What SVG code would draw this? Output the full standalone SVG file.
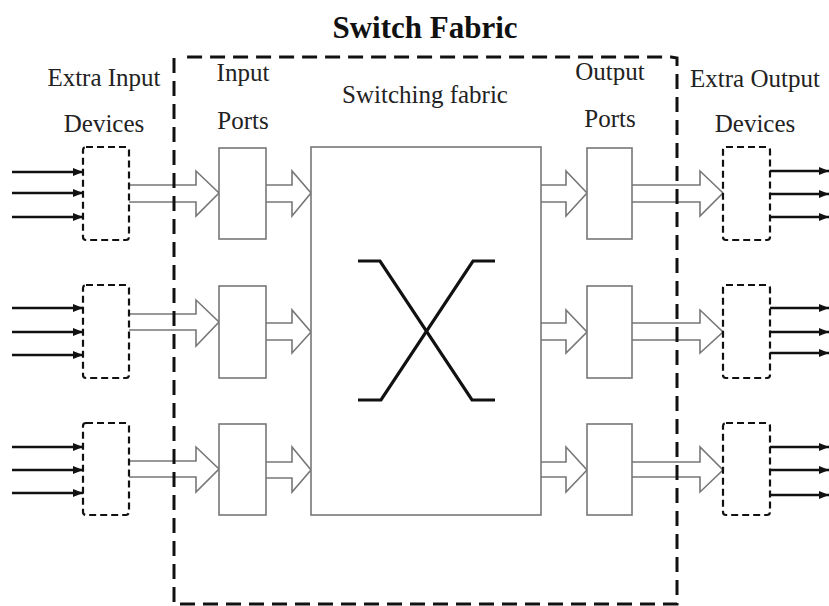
<svg xmlns="http://www.w3.org/2000/svg" width="829" height="606" viewBox="0 0 829 606">
<style>
.lbl{font-family:"Liberation Serif",serif;font-size:25px;text-anchor:middle;fill:#222;}
.title{font-family:"Liberation Serif",serif;font-size:31px;font-weight:bold;text-anchor:middle;fill:#111;}
.dev{fill:#fff;stroke:#111;stroke-width:2.2;stroke-dasharray:7,4;}
.port{fill:#fff;stroke:#777;stroke-width:1.6;}
.hollow{fill:#fff;stroke:#777;stroke-width:1.6;stroke-linejoin:miter;}
.sig{stroke:#111;stroke-width:2.6;fill:none;}
.outer{fill:none;stroke:#111;stroke-width:3;stroke-dasharray:15,8;}
.x{fill:none;stroke:#111;stroke-width:3.2;}
</style>
<defs>
<marker id="ah" markerWidth="10" markerHeight="8" refX="10" refY="4" orient="auto" markerUnits="userSpaceOnUse">
<path d="M0,0 L10,4 L0,8 z" fill="#111"/>
</marker>
</defs>
<rect width="829" height="606" fill="#fff"/>

<g id="labels">
<text class="title" x="425" y="38">Switch Fabric</text>
<text class="lbl" x="104" y="86">Extra Input</text>
<text class="lbl" x="104" y="132">Devices</text>
<text class="lbl" x="243" y="81">Input</text>
<text class="lbl" x="243" y="129">Ports</text>
<text class="lbl" x="425" y="103">Switching fabric</text>
<text class="lbl" x="610" y="80">Output</text>
<text class="lbl" x="610" y="127">Ports</text>
<text class="lbl" x="755" y="87">Extra Output</text>
<text class="lbl" x="755" y="132">Devices</text>
</g>

<g id="connectors">
<line class="sig" x1="12" y1="172" x2="83" y2="172" marker-end="url(#ah)"/>
<line class="sig" x1="12" y1="193" x2="83" y2="193" marker-end="url(#ah)"/>
<line class="sig" x1="12" y1="217" x2="83" y2="217" marker-end="url(#ah)"/>
<line class="sig" x1="12" y1="308" x2="83" y2="308" marker-end="url(#ah)"/>
<line class="sig" x1="12" y1="332" x2="83" y2="332" marker-end="url(#ah)"/>
<line class="sig" x1="12" y1="355" x2="83" y2="355" marker-end="url(#ah)"/>
<line class="sig" x1="12" y1="447" x2="83" y2="447" marker-end="url(#ah)"/>
<line class="sig" x1="12" y1="470" x2="83" y2="470" marker-end="url(#ah)"/>
<line class="sig" x1="12" y1="493" x2="83" y2="493" marker-end="url(#ah)"/>
<line class="sig" x1="770" y1="171" x2="829" y2="171" marker-end="url(#ah)"/>
<line class="sig" x1="770" y1="194" x2="829" y2="194" marker-end="url(#ah)"/>
<line class="sig" x1="770" y1="217" x2="829" y2="217" marker-end="url(#ah)"/>
<line class="sig" x1="770" y1="308" x2="829" y2="308" marker-end="url(#ah)"/>
<line class="sig" x1="770" y1="332" x2="829" y2="332" marker-end="url(#ah)"/>
<line class="sig" x1="770" y1="353" x2="829" y2="353" marker-end="url(#ah)"/>
<line class="sig" x1="770" y1="447" x2="829" y2="447" marker-end="url(#ah)"/>
<line class="sig" x1="770" y1="470" x2="829" y2="470" marker-end="url(#ah)"/>
<line class="sig" x1="770" y1="495" x2="829" y2="495" marker-end="url(#ah)"/>
<path class="hollow" d="M129,185 L196,185 L196,171 L219,193 L196,216 L196,202 L129,202"/>
<path class="hollow" d="M266,185 L292,185 L292,171 L311,193 L292,216 L292,202 L266,202"/>
<path class="hollow" d="M541,185 L566,185 L566,171 L587,193 L566,216 L566,202 L541,202"/>
<path class="hollow" d="M632,185 L700,185 L700,171 L723,193 L700,216 L700,202 L632,202"/>
<path class="hollow" d="M129,314 L196,314 L196,300 L219,322 L196,346 L196,330 L129,330"/>
<path class="hollow" d="M266,323 L292,323 L292,310 L311,332 L292,353 L292,340 L266,340"/>
<path class="hollow" d="M541,323 L566,323 L566,310 L587,332 L566,353 L566,340 L541,340"/>
<path class="hollow" d="M632,323 L700,323 L700,310 L723,332 L700,353 L700,340 L632,340"/>
<path class="hollow" d="M129,461 L196,461 L196,447 L219,469 L196,492 L196,477 L129,477"/>
<path class="hollow" d="M266,462 L292,462 L292,447 L311,470 L292,492 L292,478 L266,478"/>
<path class="hollow" d="M541,462 L566,462 L566,447 L587,470 L566,492 L566,477 L541,477"/>
<path class="hollow" d="M632,462 L700,462 L700,447 L723,470 L700,492 L700,477 L632,477"/>
</g>

<g id="extra-in-1"><rect class="dev" x="83" y="147" width="46" height="93" rx="3"/></g>
<g id="extra-in-2"><rect class="dev" x="83" y="285" width="46" height="93" rx="3"/></g>
<g id="extra-in-3"><rect class="dev" x="83" y="423" width="46" height="92" rx="3"/></g>

<g id="in-port-1"><rect class="port" x="219" y="148" width="47" height="91"/></g>
<g id="in-port-2"><rect class="port" x="219" y="286" width="47" height="92"/></g>
<g id="in-port-3"><rect class="port" x="219" y="424" width="47" height="91"/></g>

<g id="fabric">
<rect class="port" x="311" y="147" width="230" height="368"/>
<path class="x" d="M358,261 L380,261 L472,400 L495,400"/>
<path class="x" d="M358,400 L381,400 L473,261 L495,261"/>
</g>

<g id="out-port-1"><rect class="port" x="587" y="148" width="45" height="91"/></g>
<g id="out-port-2"><rect class="port" x="587" y="286" width="45" height="92"/></g>
<g id="out-port-3"><rect class="port" x="587" y="424" width="45" height="91"/></g>

<g id="extra-out-1"><rect class="dev" x="723" y="147" width="47" height="93" rx="3"/></g>
<g id="extra-out-2"><rect class="dev" x="723" y="285" width="47" height="93" rx="3"/></g>
<g id="extra-out-3"><rect class="dev" x="723" y="423" width="47" height="92" rx="3"/></g>

<g id="switch-fabric-boundary">
<path class="outer" d="M174,58 L174,604 L677,604 L677,58 L671,57 L180,57"/>
</g>
</svg>
